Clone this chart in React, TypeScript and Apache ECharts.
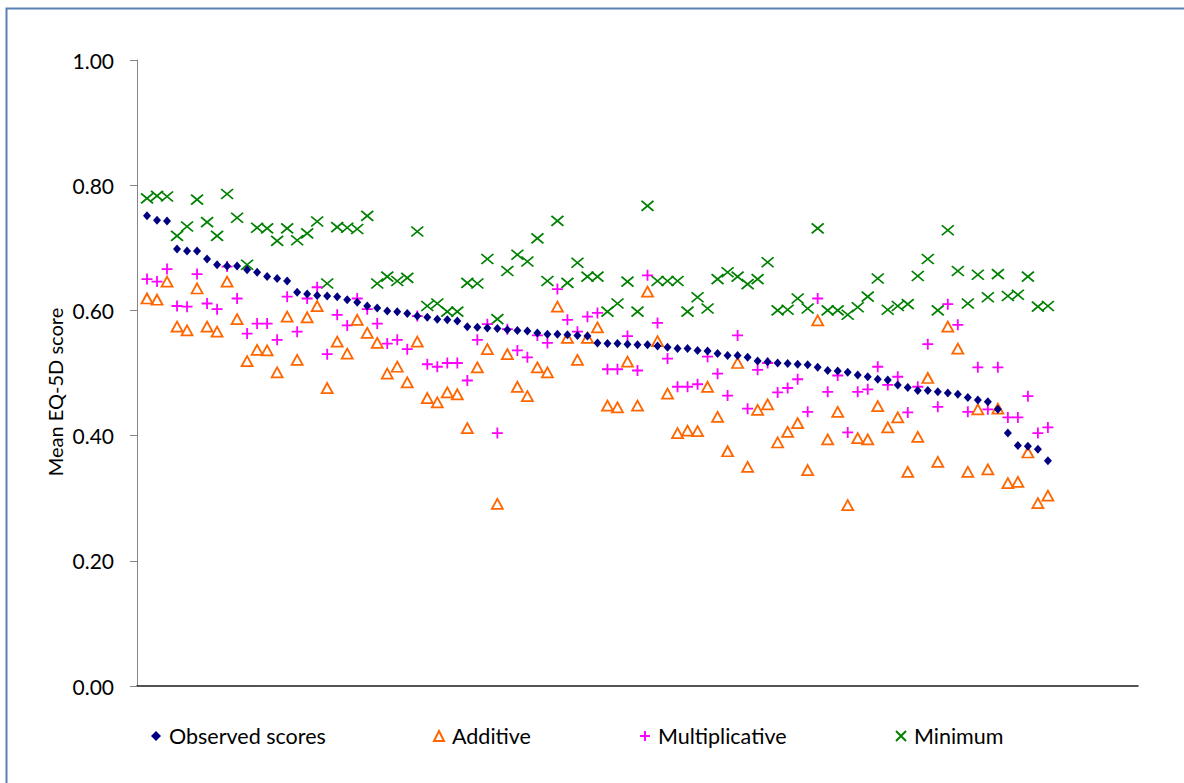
import React, { useEffect, useRef } from "react";
import * as echarts from "echarts";

const yTicks = [0, 0.2, 0.4, 0.6, 0.8, 1.0];
const seriesNames = ["Observed scores", "Additive", "Multiplicative", "Minimum"];

const observed = [
  0.751, 0.744, 0.743, 0.698, 0.695, 0.695, 0.682, 0.673, 0.671, 0.671, 0.665, 0.661, 0.654, 0.651, 0.647,
  0.629, 0.626, 0.624, 0.623, 0.622, 0.617, 0.613, 0.607, 0.604, 0.599, 0.598, 0.595, 0.591, 0.589, 0.586,
  0.585, 0.583, 0.574, 0.573, 0.572, 0.571, 0.569, 0.568, 0.567, 0.564, 0.562, 0.562, 0.561, 0.56, 0.559,
  0.548, 0.547, 0.547, 0.546, 0.545, 0.545, 0.543, 0.541, 0.539, 0.539, 0.536, 0.535, 0.531, 0.528, 0.528,
  0.525, 0.519, 0.518, 0.516, 0.515, 0.514, 0.513, 0.509, 0.504, 0.503, 0.501, 0.497, 0.494, 0.49, 0.489,
  0.481, 0.477, 0.472, 0.472, 0.47, 0.468, 0.466, 0.461, 0.457, 0.454, 0.442, 0.404, 0.384, 0.383, 0.378, 0.36,
];

const additive = [
  0.619, 0.617, 0.646, 0.574, 0.568, 0.635, 0.574, 0.566, 0.646, 0.586, 0.519, 0.537, 0.536, 0.501, 0.59,
  0.521, 0.589, 0.607, 0.476, 0.55, 0.531, 0.585, 0.564, 0.548, 0.499, 0.51, 0.485, 0.55, 0.46, 0.453,
  0.469, 0.466, 0.412, 0.509, 0.538, 0.291, 0.53, 0.478, 0.463, 0.509, 0.501, 0.606, 0.556, 0.521, 0.556,
  0.573, 0.448, 0.445, 0.518, 0.448, 0.63, 0.551, 0.467, 0.404, 0.408, 0.407, 0.478, 0.43, 0.375, 0.516,
  0.35, 0.441, 0.45, 0.389, 0.406, 0.42, 0.345, 0.584, 0.394, 0.438, 0.289, 0.396, 0.394, 0.447, 0.413,
  0.429, 0.342, 0.398, 0.492, 0.358, 0.574, 0.539, 0.342, 0.442, 0.346, 0.443, 0.324, 0.326, 0.373, 0.292, 0.304,
];

const multiplicative = [
  0.65, 0.646, 0.666, 0.607, 0.606, 0.658, 0.611, 0.602, 0.67, 0.619, 0.563, 0.579, 0.579, 0.553, 0.622,
  0.566, 0.619, 0.637, 0.53, 0.593, 0.576, 0.619, 0.602, 0.579, 0.547, 0.553, 0.538, 0.591, 0.514, 0.51,
  0.516, 0.516, 0.488, 0.553, 0.578, 0.404, 0.57, 0.536, 0.525, 0.56, 0.548, 0.634, 0.585, 0.566, 0.59,
  0.596, 0.506, 0.506, 0.559, 0.504, 0.656, 0.58, 0.523, 0.478, 0.478, 0.482, 0.526, 0.499, 0.464, 0.56,
  0.443, 0.505, 0.516, 0.469, 0.476, 0.49, 0.438, 0.619, 0.47, 0.496, 0.405, 0.47, 0.474, 0.51, 0.481,
  0.494, 0.437, 0.478, 0.546, 0.446, 0.61, 0.577, 0.438, 0.509, 0.442, 0.509, 0.429, 0.429, 0.463, 0.404, 0.413,
];

const minimum = [
  0.779, 0.783, 0.782, 0.719, 0.734, 0.777, 0.741, 0.719, 0.786, 0.748, 0.673, 0.732, 0.731, 0.711, 0.731,
  0.712, 0.723, 0.742, 0.643, 0.733, 0.732, 0.73, 0.751, 0.643, 0.654, 0.647, 0.652, 0.726, 0.607, 0.611,
  0.598, 0.598, 0.644, 0.643, 0.682, 0.586, 0.663, 0.689, 0.678, 0.715, 0.647, 0.743, 0.644, 0.676, 0.654,
  0.654, 0.598, 0.611, 0.646, 0.598, 0.767, 0.647, 0.647, 0.647, 0.598, 0.621, 0.603, 0.65, 0.661, 0.654,
  0.642, 0.65, 0.677, 0.6, 0.601, 0.619, 0.603, 0.731, 0.6, 0.6, 0.593, 0.605, 0.622, 0.651, 0.601,
  0.607, 0.61, 0.655, 0.682, 0.6, 0.728, 0.663, 0.611, 0.657, 0.621, 0.658, 0.623, 0.625, 0.654, 0.606, 0.607,
];

const FONT = "Lato, 'Liberation Sans', sans-serif";

const toPoints = (arr: number[]) => arr.map((v, i) => [i + 1, v]);

export default function App() {
  const ref = useRef<HTMLDivElement>(null);

  useEffect(() => {
    if (!ref.current) return;
    const chart = echarts.init(ref.current, undefined, { renderer: "svg" });
    const legendLefts = [151, 433, 639, 895];
    chart.setOption({
      animation: false,
      backgroundColor: "#ffffff",
      grid: { left: 137, right: 46, top: 60, bottom: 97, containLabel: false },
      xAxis: {
        type: "value",
        min: 0,
        max: 100,
        axisLine: { show: true, onZero: false, lineStyle: { color: "#1a1a1a", width: 1.5 } },
        axisTick: { show: false },
        axisLabel: { show: false },
        splitLine: { show: false },
      },
      yAxis: {
        type: "value",
        min: yTicks[0],
        max: yTicks[yTicks.length - 1],
        interval: 0.2,
        axisLine: { show: true, lineStyle: { color: "#868686", width: 1 } },
        axisTick: { show: true, length: 7, lineStyle: { color: "#868686" } },
        axisLabel: {
          margin: 23,
          color: "#000",
          fontSize: 21,
          fontFamily: FONT,
          formatter: (v: number) => v.toFixed(2),
        },
        splitLine: { show: false },
      },
      legend: seriesNames.map((n, i) => ({
        data: [n],
        left: legendLefts[i],
        top: 724,
        padding: 0,
        itemWidth: 10,
        itemHeight: 10,
        textStyle: { color: "#000", fontSize: 21.5, fontFamily: FONT, lineHeight: 24, padding: [0, 0, 0, 3] },
        selectedMode: false,
      })),
      graphic: [
        {
          type: "rect",
          shape: { x: 6.5, y: 8.5, width: 1200, height: 800 },
          style: { fill: "none", stroke: "#5a7fb5", lineWidth: 2 },
          silent: true,
        },
        {
          type: "text",
          x: 55,
          y: 392,
          rotation: Math.PI / 2,
          style: {
            text: "Mean EQ-5D score",
            fill: "#000",
            fontSize: 20,
            fontFamily: FONT,
            align: "center",
            verticalAlign: "middle",
          },
        },
      ],
      series: [
        {
          name: seriesNames[0],
          type: "scatter",
          data: toPoints(observed),
          symbol: "diamond",
          symbolSize: [8, 9],
          itemStyle: { color: "#000080", opacity: 1 },
          z: 5,
        },
        {
          name: seriesNames[1],
          type: "scatter",
          data: toPoints(additive),
          symbol: "triangle",
          symbolSize: [11, 10],
          itemStyle: { color: "transparent", borderColor: "#FF6600", borderWidth: 1.8, opacity: 1 },
          z: 4,
        },
        {
          name: seriesNames[2],
          type: "scatter",
          data: toPoints(multiplicative),
          symbol: "path://M0,5L10,5M5,0L5,10",
          symbolSize: 11,
          itemStyle: { color: "transparent", borderColor: "#FF00FF", borderWidth: 1.8, opacity: 1 },
          z: 3,
        },
        {
          name: seriesNames[3],
          type: "scatter",
          data: toPoints(minimum),
          symbol: "path://M0,0L10,10M10,0L0,10",
          symbolSize: [12, 10],
          itemStyle: { color: "transparent", borderColor: "#008000", borderWidth: 1.7, opacity: 1 },
          z: 2,
        },
      ],
    });
    return () => chart.dispose();
  }, []);

  return (
    <div
      ref={ref}
      style={{ position: "fixed", left: 0, top: 0, width: 1184, height: 783, background: "#fff" }}
    />
  );
}
